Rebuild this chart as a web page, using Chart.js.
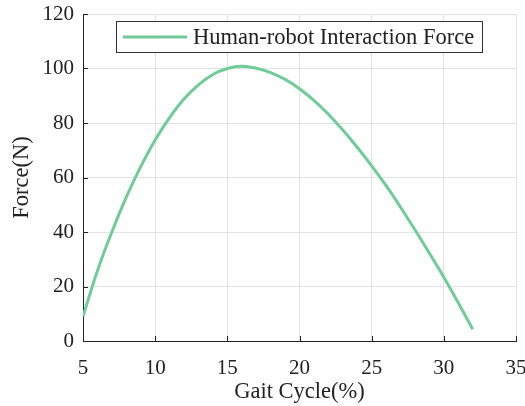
<!DOCTYPE html>
<html>
<head>
<meta charset="utf-8">
<script src="https://cdn.jsdelivr.net/npm/chart.js@4.4.1/dist/chart.umd.min.js"></script>
<style>
  html, body { margin: 0; padding: 0; background: #fff; }
  #wrap { width: 525px; height: 406px; }
</style>
</head>
<body>
<div id="wrap"><canvas id="chart"></canvas></div>
<script>
"use strict";
// gait cycle (%) and the measured interaction force (N)
const gaitCycle = [5, 6, 7, 8, 9, 10, 11, 12, 13, 14, 15, 16, 17, 18, 19, 20, 21, 22, 23, 24, 25, 26, 27, 28, 29, 30, 31, 32];
const forceN = [9, 25.8, 40, 52.8, 64, 73.8, 82, 88.8, 94, 97.8, 100, 100.8, 100.1, 98.5, 96, 92.6, 88.3, 83.2, 77.4, 71.1, 64.3, 57, 49.1, 40.8, 32.2, 23.4, 14, 4.3];
const xTicks = [5, 10, 15, 20, 25, 30, 35];
const yTicks = [0, 20, 40, 60, 80, 100, 120];
const seriesLabel = "Human-robot Interaction Force";

const FONT = "'Liberation Serif', 'DejaVu Serif', serif";
const INK = "#222";
const GRID = "#e3e3e3";
const GREEN = "#6fcc98";

// ticks pointing into the plot, matlab style
const innerTicks = {
  id: "innerTicks",
  afterDraw(chart) {
    const { ctx, chartArea: a, scales: { x, y } } = chart;
    ctx.save();
    ctx.strokeStyle = INK;
    ctx.lineWidth = 1;
    ctx.beginPath();
    xTicks.forEach((v) => {
      const px = Math.round(x.getPixelForValue(v)) + 0.5;
      ctx.moveTo(px, a.bottom); ctx.lineTo(px, a.bottom - 5);
    });
    yTicks.forEach((v) => {
      const py = Math.round(y.getPixelForValue(v)) + 0.5;
      ctx.moveTo(a.left, py); ctx.lineTo(a.left + 5, py);
    });
    ctx.stroke();
    ctx.restore();
  }
};

// boxed legend in the upper part of the axes
const boxLegend = {
  id: "boxLegend",
  afterDatasetsDraw(chart) {
    const { ctx, chartArea: a } = chart;
    const ds = chart.data.datasets[0];
    const left = a.left + 33, top = a.top + 7, w = 366, h = 31;
    ctx.save();
    ctx.fillStyle = "#fff";
    ctx.fillRect(left, top, w, h);
    ctx.strokeStyle = "#333";
    ctx.lineWidth = 1;
    ctx.strokeRect(left + 0.5, top + 0.5, w, h);
    ctx.strokeStyle = ds.borderColor;
    ctx.lineWidth = 3;
    ctx.beginPath();
    ctx.moveTo(left + 7, top + 16); ctx.lineTo(left + 71, top + 16);
    ctx.stroke();
    ctx.fillStyle = INK;
    ctx.font = "22.5px " + FONT;
    ctx.textBaseline = "middle";
    ctx.fillText(ds.label, left + 77, top + 17);
    ctx.restore();
  }
};

new Chart(document.getElementById("chart"), {
  type: "line",
  data: {
    datasets: [{
      label: seriesLabel,
      data: gaitCycle.map((g, i) => ({ x: g, y: forceN[i] })),
      borderColor: GREEN,
      borderWidth: 3,
      pointRadius: 0,
      tension: 0.4,
      fill: false
    }]
  },
  options: {
    responsive: true,
    maintainAspectRatio: false,
    animation: false,
    layout: { padding: { top: 14, right: 9, left: 0, bottom: 0 } },
    plugins: { legend: { display: false }, tooltip: { enabled: false } },
    scales: {
      x: {
        type: "linear", min: 5, max: 35,
        afterBuildTicks: (s) => { s.ticks = xTicks.map((v) => ({ value: v })); },
        afterFit: (s) => { s.height = 65; s.paddingLeft = 0; s.paddingRight = 0; },
        grid: { color: GRID, drawTicks: false },
        border: { color: INK, width: 1 },
        ticks: { color: INK, padding: 15, font: { family: FONT, size: 21 } },
        title: { display: true, text: "Gait Cycle(%)", color: INK, padding: { top: 0, bottom: 0 }, font: { family: FONT, size: 22.5 } }
      },
      y: {
        min: 0, max: 120,
        afterBuildTicks: (s) => { s.ticks = yTicks.map((v) => ({ value: v })); },
        afterFit: (s) => { s.width = 83; s.paddingTop = 0; s.paddingBottom = 0; },
        grid: { color: GRID, drawTicks: false },
        border: { color: INK, width: 1 },
        ticks: { color: INK, padding: 9, font: { family: FONT, size: 21 } },
        title: { display: true, text: "Force(N)", color: INK, padding: { top: 9, bottom: 0 }, font: { family: FONT, size: 22.5 } }
      }
    }
  },
  plugins: [innerTicks, boxLegend]
});
</script>
</body>
</html>
